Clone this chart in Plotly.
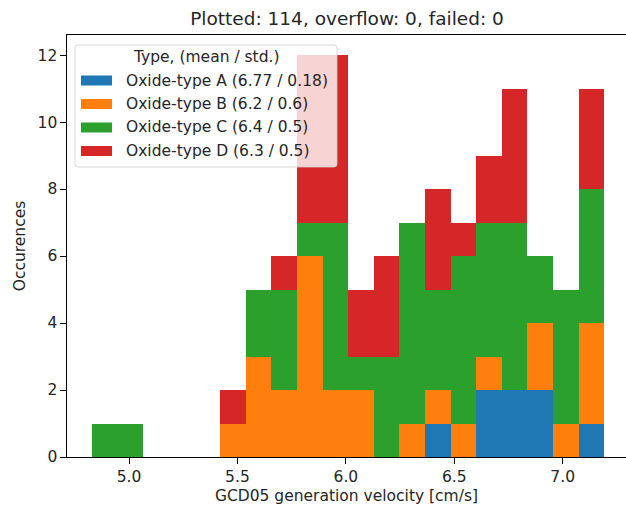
import numpy as np
import plotly.graph_objects as go

# Histogram binning of the generation velocity
BIN_LO = 4.829
BIN_HI = 7.192
N_BINS = 20

type_names = ["Oxide-type A", "Oxide-type B", "Oxide-type C", "Oxide-type D"]
type_stats = ["(6.77 / 0.18)", "(6.2 / 0.6)", "(6.4 / 0.5)", "(6.3 / 0.5)"]

# Counts per bin for each oxide type (stacked in this order)
counts_a = [0, 0, 0, 0, 0, 0, 0, 0, 0, 0, 0, 0, 0, 1, 0, 2, 2, 2, 0, 1]
counts_b = [0, 0, 0, 0, 0, 1, 3, 2, 6, 2, 2, 0, 1, 1, 1, 1, 0, 2, 1, 3]
counts_c = [1, 1, 0, 0, 0, 0, 2, 3, 1, 5, 1, 3, 6, 3, 5, 4, 5, 2, 4, 4]
counts_d = [0, 0, 0, 0, 0, 1, 0, 1, 5, 5, 2, 3, 0, 3, 1, 2, 4, 0, 0, 3]

colors = ["#1f77b4", "#ff7f0e", "#2ca02c", "#d62728"]

x_ticks = [5.0, 5.5, 6.0, 6.5, 7.0]
y_ticks = [0, 2, 4, 6, 8, 10, 12]

FONT = "DejaVu Sans"
FS = 15.5

# Figure / plot-area geometry in pixels
W, H = 626, 505
L, R, T, B = 67, 626, 35, 457


def px_x(px):
    return (px - L) / (R - L)


def px_y(py):
    return (B - py) / (B - T)


edges = np.linspace(BIN_LO, BIN_HI, N_BINS + 1)
centers = (edges[:-1] + edges[1:]) / 2
bin_w = edges[1] - edges[0]

all_counts = [counts_a, counts_b, counts_c, counts_d]
total = int(sum(sum(c) for c in all_counts))

fig = go.Figure()
for name, cnt, col in zip(type_names, all_counts, colors):
    fig.add_trace(go.Bar(
        x=centers, y=cnt, width=bin_w, name=name,
        marker=dict(color=col, line=dict(width=0)),
        showlegend=False,
    ))

# Legend box (semi-transparent, rounded corners) drawn over the bars
lx0, lx1, ly0, ly1 = 75, 337, 45, 167
rad = 3
x0, x1 = px_x(lx0), px_x(lx1)
y0, y1 = px_y(ly0), px_y(ly1)
rx = rad / (R - L)
ry = rad / (B - T)
path = (
    f"M {x0 + rx},{y0} L {x1 - rx},{y0} Q {x1},{y0} {x1},{y0 - ry} "
    f"L {x1},{y1 + ry} Q {x1},{y1} {x1 - rx},{y1} "
    f"L {x0 + rx},{y1} Q {x0},{y1} {x0},{y1 + ry} "
    f"L {x0},{y0 - ry} Q {x0},{y0} {x0 + rx},{y0} Z"
)
shapes = [dict(
    type="path", path=path, xref="paper", yref="paper", layer="above",
    fillcolor="rgba(255,255,255,0.8)",
    line=dict(color="rgba(204,204,204,0.8)", width=1),
)]
annotations = [dict(
    text="Type, (mean / std.)", x=px_x((lx0 + lx1) / 2), y=px_y(57),
    xref="paper", yref="paper", xanchor="center", yanchor="middle",
    showarrow=False, font=dict(family=FONT, size=FS, color="#262626"),
)]
row_y = [80.5, 104, 127.5, 151]
for name, stat, col, ry_px in zip(type_names, type_stats, colors, row_y):
    shapes.append(dict(
        type="rect", xref="paper", yref="paper", layer="above",
        x0=px_x(81), x1=px_x(112), y0=px_y(ry_px - 5), y1=px_y(ry_px + 5),
        fillcolor=col, line=dict(width=0),
    ))
    annotations.append(dict(
        text=f"{name} {stat}", x=px_x(124), y=px_y(ry_px),
        xref="paper", yref="paper", xanchor="left", yanchor="middle",
        showarrow=False, font=dict(family=FONT, size=FS, color="#262626"),
    ))

axis_common = dict(
    showline=True, linecolor="black", linewidth=1.3,
    ticks="outside", ticklen=5.5, tickwidth=1.3, tickcolor="black",
    showgrid=False, zeroline=False,
    tickfont=dict(family=FONT, size=FS, color="#262626"),
    title_font=dict(family=FONT, size=FS, color="#262626"),
)

fig.update_layout(
    width=W, height=H,
    margin=dict(l=L, r=W - R, t=T, b=H - B, autoexpand=False),
    paper_bgcolor="white", plot_bgcolor="white",
    barmode="stack", bargap=0,
    showlegend=False,
    title=dict(
        text=f"Plotted: {total}, overflow: 0, failed: 0",
        x=347 / W, xref="container", xanchor="center",
        y=1 - 19 / H, yref="container", yanchor="middle",
        font=dict(family=FONT, size=18.5, color="#262626"),
    ),
    xaxis=dict(
        range=[4.714, 7.292], tickvals=x_ticks,
        ticktext=[f"{v:.1f}" for v in x_ticks],
        mirror=True,
        title=dict(text="GCD05 generation velocity [cm/s]", standoff=6),
        **axis_common,
    ),
    yaxis=dict(
        range=[0, 12.6], tickvals=y_ticks,
        ticktext=[str(v) for v in y_ticks],
        title=dict(text="Occurences", standoff=8),
        **axis_common,
    ),
    shapes=shapes,
    annotations=annotations,
)

fig.write_html("out.html")
